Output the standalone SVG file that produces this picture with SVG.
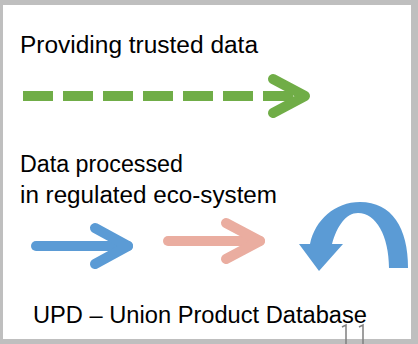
<svg xmlns="http://www.w3.org/2000/svg" width="418" height="344" viewBox="0 0 418 344">
<style>
.t{font-family:"Liberation Sans",Arial,sans-serif;font-size:23.5px;fill:#000}
.arr{fill:none;stroke-width:10;stroke-linecap:round;stroke-linejoin:round}
</style>
<rect x="0" y="0" width="418" height="344" fill="#bfbfbf"/>
<rect x="3" y="5" width="408" height="334" fill="#ffffff"/>
<g id="label-trusted"><text class="t" x="20" y="53" textLength="238" lengthAdjust="spacingAndGlyphs">Providing trusted data</text></g>
<g id="label-processed">
<text class="t" x="20" y="172" textLength="163" lengthAdjust="spacingAndGlyphs">Data processed</text>
<text class="t" x="20" y="203" textLength="257" lengthAdjust="spacingAndGlyphs">in regulated eco-system</text>
</g>
<g id="label-upd"><text class="t" x="33" y="323" textLength="334" lengthAdjust="spacingAndGlyphs">UPD – Union Product Database</text></g>
<g id="connectors">
<path d="M23 96 H300" stroke="#70ad47" stroke-width="10" stroke-dasharray="30 10" fill="none"/>
<polyline class="arr" stroke="#70ad47" points="273,79 305,96 273,113"/>
<path class="arr" stroke="#5b9bd5" stroke-linecap="butt" d="M36 246 H128"/>
<polyline class="arr" stroke="#5b9bd5" points="95,228 128,246 95,264"/>
<path class="arr" stroke="#eaada0" stroke-linecap="butt" d="M168 241 H260"/>
<polyline class="arr" stroke="#eaada0" points="226,223 260,241 226,259"/>
<path fill="#5b9bd5" d="M408 268 C408 228 392 202 360 202 C335 202 315 220 310 244 L299 244 L319 271 L343 244 L332 244 C337 226 346 213 358 213 C376 213 389 236 389 268 Z"/>
</g>
<path d="M342 327 L346 325 V344 M359 327 L363 325 V344" stroke="#808080" stroke-width="1.5" fill="none"/>
</svg>
